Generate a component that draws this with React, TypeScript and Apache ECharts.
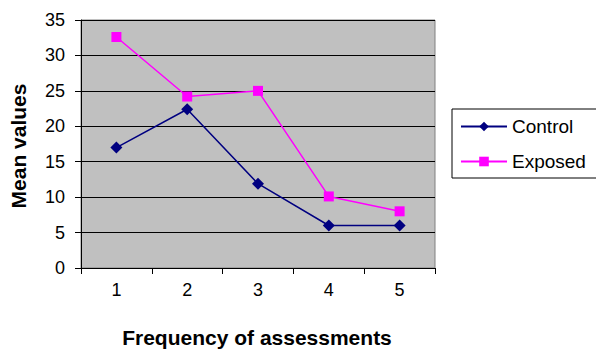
import React, { useEffect, useRef } from "react";
import * as echarts from "echarts";

const categories = ["1", "2", "3", "4", "5"];
const controlValues = [17.0, 22.4, 11.9, 6.0, 6.0];
const exposedValues = [32.6, 24.2, 25.0, 10.1, 8.0];
const yTicks = { min: 0, max: 35, interval: 5 };

export default function App() {
  const ref = useRef<HTMLDivElement>(null);
  useEffect(() => {
    if (!ref.current) return;
    const chart = echarts.init(ref.current, undefined, { renderer: "svg" });
    const font = "Liberation Sans, Arial, sans-serif";
    chart.setOption({
      animation: false,
      backgroundColor: "#ffffff",
      textStyle: { fontFamily: font },
      grid: {
        left: 81,
        top: 20,
        width: 354,
        height: 248,
        show: true,
        backgroundColor: "#c0c0c0",
        borderColor: "#808080",
        borderWidth: 1,
      },
      xAxis: {
        type: "category",
        data: categories,
        boundaryGap: true,
        axisLine: { show: true, lineStyle: { color: "#000", width: 1 } },
        axisTick: { show: true, length: 6, lineStyle: { color: "#000" } },
        axisLabel: { color: "#000", fontSize: 18, margin: 13, fontFamily: font },
        splitLine: { show: false },
      },
      yAxis: {
        type: "value",
        min: yTicks.min,
        max: yTicks.max,
        interval: yTicks.interval,
        axisLine: { show: true, lineStyle: { color: "#000", width: 1 } },
        axisTick: { show: true, length: 6, lineStyle: { color: "#000" } },
        axisLabel: { color: "#000", fontSize: 18, margin: 16, fontFamily: font },
        splitLine: { show: true, lineStyle: { color: "#000", width: 1 } },
      },
      legend: {
        orient: "vertical",
        left: 452,
        top: 109,
        padding: [8, 20, 7, 8],
        itemGap: 16,
        itemWidth: 46,
        itemHeight: 12,
        borderColor: "#000",
        borderWidth: 1,
        backgroundColor: "#fff",
        borderRadius: 0,
        textStyle: { color: "#000", fontSize: 19, fontFamily: font, padding: [0, 0, 0, 0] },
        data: ["Control", "Exposed"],
      },
      graphic: [
        {
          type: "text",
          x: 257,
          y: 337,
          style: {
            text: "Frequency of assessments",
            x: 0,
            y: 0,
            align: "center",
            verticalAlign: "middle",
            fontSize: 21,
            fontWeight: "bold",
            fontFamily: font,
            fill: "#000",
          },
        },
        {
          type: "text",
          x: 18,
          y: 146,
          rotation: Math.PI / 2,
          style: {
            text: "Mean values",
            x: 0,
            y: 0,
            align: "center",
            verticalAlign: "middle",
            fontSize: 21,
            fontWeight: "bold",
            fontFamily: font,
            fill: "#000",
          },
        },
      ],
      series: [
        {
          name: "Control",
          type: "line",
          data: controlValues,
          symbol: "diamond",
          symbolSize: 12,
          color: "#000080",
          lineStyle: { color: "#000080", width: 1.5 },
          itemStyle: { color: "#000080" },
        },
        {
          name: "Exposed",
          type: "line",
          data: exposedValues,
          symbol: "rect",
          symbolSize: 10,
          color: "#ff00ff",
          lineStyle: { color: "#ff00ff", width: 1.5 },
          itemStyle: { color: "#ff00ff" },
        },
      ],
    });
    return () => chart.dispose();
  }, []);
  return (
    <div
      ref={ref}
      style={{ position: "fixed", left: 0, top: 0, width: 596, height: 349 }}
    />
  );
}
